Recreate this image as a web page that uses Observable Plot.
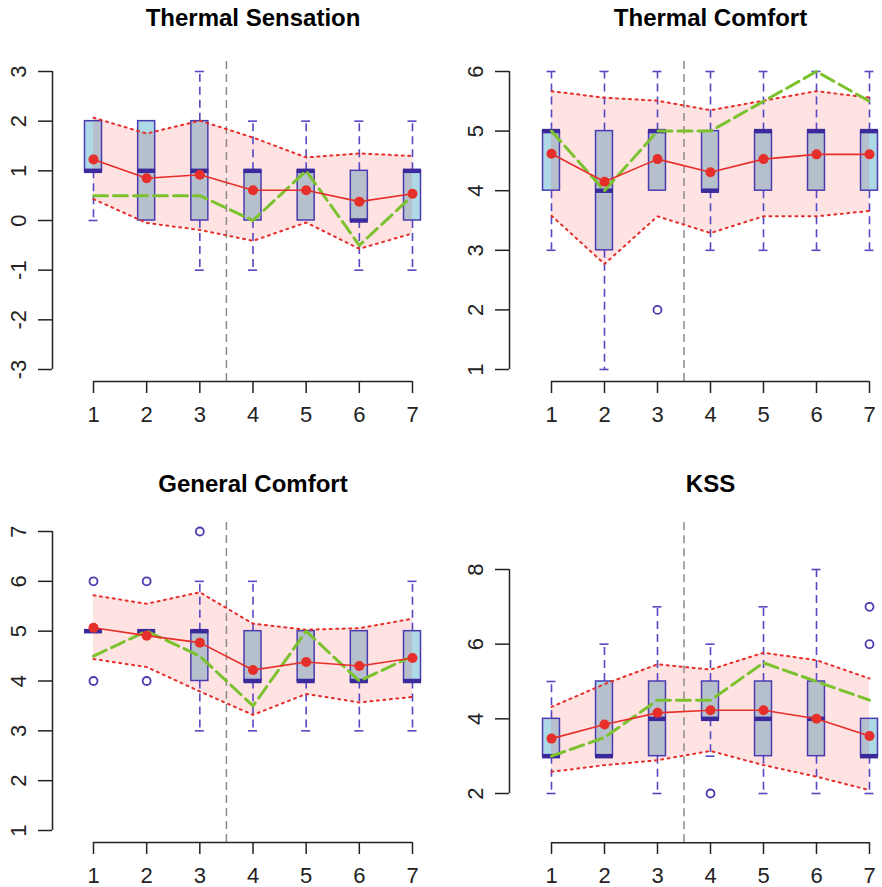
<!DOCTYPE html>
<html><head><meta charset="utf-8">
<script src="https://cdn.jsdelivr.net/npm/d3@7"></script>
<script src="https://cdn.jsdelivr.net/npm/@observablehq/plot@0.6"></script>
<style>
html,body{margin:0;padding:0;background:#fff;}
#chart{position:relative;width:882px;height:887px;overflow:hidden;}
#chart > svg{position:absolute;display:block;}
</style></head><body><div id="chart"></div>
<script>
const periods = [1, 2, 3, 4, 5, 6, 7];
const splitAt = 3.5;

// ---- Thermal Sensation ----
const tsTitle = "Thermal Sensation";
const tsTicks = [-3, -2, -1, 0, 1, 2, 3];
const tsLim = [-3, 3];
const tsQ1 = [1, 0, 0, 0, 0, 0, 0];
const tsMed = [1, 1, 1, 1, 1, 0, 1];
const tsQ3 = [2, 2, 2, 1, 1, 1, 1];
const tsWLo = [0, 0, -1, -1, 0, -1, -1];
const tsWHi = [2, 2, 3, 2, 2, 2, 2];
const tsMean = [1.23, 0.85, 0.92, 0.61, 0.61, 0.38, 0.54];
const tsRef = [0.5, 0.5, 0.5, 0, 1, -0.5, 0.5];
const tsHi = [2.07, 1.75, 2.01, 1.67, 1.27, 1.35, 1.30];
const tsLo = [0.43, -0.05, -0.19, -0.41, -0.04, -0.57, -0.26];
const tsOutX = [];
const tsOutY = [];

// ---- Thermal Comfort ----
const tcTitle = "Thermal Comfort";
const tcTicks = [1, 2, 3, 4, 5, 6];
const tcLim = [1, 6];
const tcQ1 = [4, 3, 4, 4, 4, 4, 4];
const tcMed = [5, 4, 5, 4, 5, 5, 5];
const tcQ3 = [5, 5, 5, 5, 5, 5, 5];
const tcWLo = [3, 1, 4, 3, 3, 3, 3];
const tcWHi = [6, 6, 6, 6, 6, 6, 6];
const tcMean = [4.62, 4.15, 4.53, 4.31, 4.53, 4.61, 4.61];
const tcRef = [5, 4, 5, 5, 5.5, 6, 5.5];
const tcHi = [5.67, 5.56, 5.51, 5.35, 5.51, 5.67, 5.56];
const tcLo = [3.58, 2.77, 3.57, 3.29, 3.57, 3.57, 3.66];
const tcOutX = [3];
const tcOutY = [2];

// ---- General Comfort ----
const gcTitle = "General Comfort";
const gcTicks = [1, 2, 3, 4, 5, 6, 7];
const gcLim = [1, 7];
const gcQ1 = [5, 5, 4, 4, 4, 4, 4];
const gcMed = [5, 5, 5, 4, 4, 4, 4];
const gcQ3 = [5, 5, 5, 5, 5, 5, 5];
const gcWLo = [5, 5, 3, 3, 3, 3, 3];
const gcWHi = [5, 5, 6, 6, 5, 5, 6];
const gcMean = [5.07, 4.91, 4.77, 4.22, 4.38, 4.30, 4.46];
const gcRef = [4.5, 5, 4.5, 3.5, 5, 4, 4.5];
const gcHi = [5.72, 5.55, 5.78, 5.15, 5.03, 5.06, 5.25];
const gcLo = [4.44, 4.28, 3.79, 3.32, 3.74, 3.57, 3.68];
const gcOutX = [1, 1, 2, 2, 3];
const gcOutY = [6, 4, 6, 4, 7];

// ---- KSS ----
const kssTitle = "KSS";
const kssTicks = [2, 4, 6, 8];
const kssLim = [1, 9];
const kssQ1 = [3, 3, 3, 4, 3, 3, 3];
const kssMed = [3, 3, 4, 4, 4, 4, 3];
const kssQ3 = [4, 5, 5, 5, 5, 5, 4];
const kssWLo = [2, 3, 2, 3, 2, 2, 2];
const kssWHi = [5, 6, 7, 6, 7, 8, 4];
const kssMean = [3.47, 3.85, 4.16, 4.23, 4.23, 4.00, 3.54];
const kssRef = [3, 3.5, 4.5, 4.5, 5.5, 5, 4.5];
const kssHi = [4.32, 4.93, 5.46, 5.32, 5.77, 5.57, 5.08];
const kssLo = [2.58, 2.76, 2.89, 3.14, 2.76, 2.45, 2.09];
const kssOutX = [4, 7, 7];
const kssOutY = [2, 6, 7];

// ---- styling ----
const FONT = "'Liberation Sans', Arial, Helvetica, sans-serif";
const AXIS = "#222";
const BOX_FILL = "#add8e6";
const BOX_STROKE = "#4a3cb0";
const MED_STROKE = "#3a2a9c";
const WHISK = "#5548c4";
const RED = "#e62e2a";
const GREEN = "#7cc22e";
const GREY = "#8c8c8c";
const BOXW = 0.16, MEDW = 0.17, STAPLE = 0.085;

function panel(spec) {
  const rows = periods.map((p, i) => ({
    x: p, q1: spec.q1[i], med: spec.med[i], q3: spec.q3[i],
    wlo: spec.wlo[i], whi: spec.whi[i], mean: spec.mean[i],
    ref: spec.ref[i], hi: spec.hi[i], lo: spec.lo[i]
  }));
  const outs = spec.outX.map((x, i) => ({x, y: spec.outY[i]}));
  const [l0, l1] = spec.lim;
  const ext = 0.04 * (l1 - l0);
  const yBottom = l0 - ext, yTop = l1 + ext;
  const L = spec.layout;
  const xAxisAt = periods[0] + (L.marginLeft - L.xRange[0]) * (periods[6] - periods[0]) / (L.xRange[1] - L.xRange[0]);
  const ticks = spec.ticks;
  const upper = rows.filter(d => d.whi > d.q3);
  const lower = rows.filter(d => d.wlo < d.q1);
  const mid = (periods[0] + periods[periods.length - 1]) / 2;
  return Plot.plot({
    width: L.width, height: L.height,
    marginLeft: L.marginLeft, marginBottom: L.marginBottom, marginTop: 0, marginRight: 0,
    style: {fontFamily: FONT, fontSize: "22px", color: AXIS, background: "white", overflow: "visible"},
    x: {type: "linear", domain: [periods[0], periods[6]], range: L.xRange},
    y: {type: "linear", domain: [ticks[0], ticks[ticks.length - 1]], range: L.yRange},
    marks: [
      // box fills
      Plot.rect(rows, {x1: d => d.x - BOXW, x2: d => d.x + BOXW, y1: "q1", y2: "q3", fill: BOX_FILL}),
      // band
      Plot.areaY(rows, {x: "x", y1: "lo", y2: "hi", fill: "red", fillOpacity: 0.11}),
      // whiskers
      Plot.ruleX(upper, {x: "x", y1: "q3", y2: "whi", stroke: WHISK, strokeWidth: 1.6, strokeDasharray: "8,5"}),
      Plot.ruleX(lower, {x: "x", y1: "q1", y2: "wlo", stroke: WHISK, strokeWidth: 1.6, strokeDasharray: "8,5"}),
      Plot.ruleY(upper, {y: "whi", x1: d => d.x - STAPLE, x2: d => d.x + STAPLE, stroke: WHISK, strokeWidth: 1.6}),
      Plot.ruleY(lower, {y: "wlo", x1: d => d.x - STAPLE, x2: d => d.x + STAPLE, stroke: WHISK, strokeWidth: 1.6}),
      // box outlines
      Plot.rect(rows, {x1: d => d.x - BOXW, x2: d => d.x + BOXW, y1: "q1", y2: "q3", fill: "none", stroke: BOX_STROKE, strokeWidth: 1.5}),
      Plot.ruleY(rows, {y: "med", x1: d => d.x - MEDW, x2: d => d.x + MEDW, stroke: MED_STROKE, strokeWidth: 4.5}),
      // outliers
      Plot.dot(outs, {x: "x", y: "y", r: 4, stroke: BOX_STROKE, strokeWidth: 1.8, fill: "none"}),
      // split line
      Plot.ruleX([splitAt], {y1: yBottom, y2: yTop, stroke: GREY, strokeWidth: 1.5, strokeDasharray: "8,5"}),
      // band edges
      Plot.lineY(rows, {x: "x", y: "hi", stroke: RED, strokeWidth: 2, strokeDasharray: "2,4.5"}),
      Plot.lineY(rows, {x: "x", y: "lo", stroke: RED, strokeWidth: 2, strokeDasharray: "2,4.5"}),
      // reference line
      Plot.lineY(rows, {x: "x", y: "ref", stroke: GREEN, strokeWidth: 3, strokeDasharray: "14,6"}),
      // means
      Plot.lineY(rows, {x: "x", y: "mean", stroke: RED, strokeWidth: 1.6}),
      Plot.dot(rows, {x: "x", y: "mean", r: 5, fill: RED}),
      // axes
      Plot.ruleY([yBottom], {x1: periods[0], x2: periods[6], stroke: AXIS, strokeWidth: 1.5}),
      Plot.ruleX([xAxisAt], {y1: ticks[0], y2: ticks[ticks.length - 1], stroke: AXIS, strokeWidth: 1.5}),
      Plot.axisX(periods, {anchor: "bottom", tickSize: 12, tickPadding: 13, strokeWidth: 1.5, tickFormat: d => String(d), label: null}),
      Plot.axisY(ticks, {anchor: "left", tickSize: 14, tickPadding: 13, tickRotate: -90, strokeWidth: 1.5, tickFormat: d => String(d), label: null}),
      // title
      Plot.text([spec.title], {x: () => mid, frameAnchor: "top", dy: L.titleBaseline, lineAnchor: "bottom", text: d => d, fontSize: 24, fontWeight: "bold", fill: "black"})
    ]
  });
}

const topLeft = {width: 441, height: 443, marginLeft: 52, marginBottom: 62, xRange: [93, 412], titleBaseline: 25};
const topRight = {width: 441, height: 443, marginLeft: 68, marginBottom: 62, xRange: [110, 428], titleBaseline: 25};
const botLeft = {width: 441, height: 444, marginLeft: 52, marginBottom: 45, xRange: [93, 412], titleBaseline: 48};
const botRight = {width: 441, height: 444, marginLeft: 68, marginBottom: 45, xRange: [110, 428], titleBaseline: 48};

const specs = [
  {pos: [0, 0], layout: {...topLeft, yRange: [369, 71]}, title: tsTitle, ticks: tsTicks, lim: tsLim,
   q1: tsQ1, med: tsMed, q3: tsQ3, wlo: tsWLo, whi: tsWHi, mean: tsMean, ref: tsRef, hi: tsHi, lo: tsLo, outX: tsOutX, outY: tsOutY},
  {pos: [441, 0], layout: {...topRight, yRange: [369, 71]}, title: tcTitle, ticks: tcTicks, lim: tcLim,
   q1: tcQ1, med: tcMed, q3: tcQ3, wlo: tcWLo, whi: tcWHi, mean: tcMean, ref: tcRef, hi: tcHi, lo: tcLo, outX: tcOutX, outY: tcOutY},
  {pos: [0, 443], layout: {...botLeft, yRange: [387, 88]}, title: gcTitle, ticks: gcTicks, lim: gcLim,
   q1: gcQ1, med: gcMed, q3: gcQ3, wlo: gcWLo, whi: gcWHi, mean: gcMean, ref: gcRef, hi: gcHi, lo: gcLo, outX: gcOutX, outY: gcOutY},
  {pos: [441, 443], layout: {...botRight, yRange: [350, 126]}, title: kssTitle, ticks: kssTicks, lim: kssLim,
   q1: kssQ1, med: kssMed, q3: kssQ3, wlo: kssWLo, whi: kssWHi, mean: kssMean, ref: kssRef, hi: kssHi, lo: kssLo, outX: kssOutX, outY: kssOutY}
];

const chart = document.getElementById("chart");
for (const s of specs) {
  const svg = panel(s);
  svg.style.left = s.pos[0] + "px";
  svg.style.top = s.pos[1] + "px";
  chart.appendChild(svg);
}
</script>
</body></html>
